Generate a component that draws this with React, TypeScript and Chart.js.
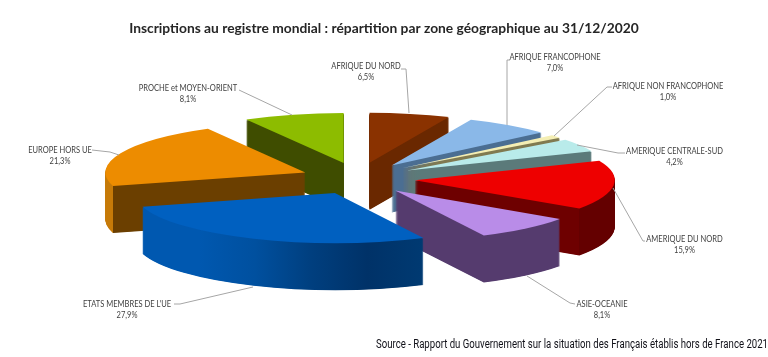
import React, { useEffect, useRef } from "react";
import { Chart, registerables } from "chart.js";

Chart.register(...registerables);

const categories = [
  "AFRIQUE DU NORD",
  "AFRIQUE FRANCOPHONE",
  "AFRIQUE NON FRANCOPHONE",
  "AMERIQUE CENTRALE-SUD",
  "AMERIQUE DU NORD",
  "ASIE-OCEANIE",
  "ETATS MEMBRES DE L'UE",
  "EUROPE HORS UE",
  "PROCHE et MOYEN-ORIENT",
];
const shares = [6.5, 7.0, 1.0, 4.2, 15.9, 8.1, 27.9, 21.3, 8.1];
const titleText = "Inscriptions au registre mondial : répartition par zone géographique au 31/12/2020";
const sourceText = "Source - Rapport du Gouvernement sur la situation des Français établis hors de France 2021";

const topColors = ["#8A3200", "#8AB8E8", "#F4EEB4", "#B9EBEA", "#EE0000", "#B98CE8", "#0060C0", "#ED8C00", "#8DBC00"];
const wallColors = ["#6A2800", "#4B6E92", "#807A50", "#5B7A7A", "#6E0000", "#553B6E", "#003E80", "#6B3F00", "#3F4D00"];
const rimColors = ["#6A2800", "#4B6E92", "#807A50", "#5B7A7A", "#640000", "#553B6E", "#003E80", "#C67A08", "#3F4D00"];
const blueRimStops = ["#0058B0", "#0058B0", "#00509F", "#003F7F", "#003268", "#003A72"];
const drawOrder = [8, 0, 1, 2, 3, 4, 5, 7, 6];
const euIndex = 6;

const PIE_X = 358;
const PIE_Y = 178.5;
const RADIUS = 200;
const EXPLODE = 57;
const SQUASH = 0.25;
const EXPLODE_SQUASH = 0.28;
const DEPTH = 47;
const LABEL_SQUEEZE = 0.885;

// text centre x, first-line y, leader polyline
const labelLayout: { x: number; y: number; line: number[][] }[] = [
  { x: 366, y: 66, line: [[401, 69], [406, 69], [409, 113]] },
  { x: 555, y: 57, line: [[510, 60], [507, 60], [507, 125]] },
  { x: 668, y: 86, line: [[612, 87], [607, 87], [554, 136]] },
  { x: 674.5, y: 151, line: [[625, 153], [618, 153], [577, 145]] },
  { x: 684.5, y: 239, line: [[613, 188], [643, 241], [645, 241]] },
  { x: 602, y: 304, line: [[527, 276], [570, 303], [575, 304]] },
  { x: 127, y: 304, line: [[253, 287], [180, 304], [174, 304]] },
  { x: 60, y: 150, line: [[92, 150], [110, 152], [119, 155]] },
  { x: 188, y: 88, line: [[239, 90], [292, 115]] },
];

const pie3d = {
  id: "pie3d",
  beforeDatasetsDraw(chart: any) {
    const ctx = chart.ctx;
    const meta = chart.getDatasetMeta(0);
    for (const i of drawOrder) {
      const el = meta.data[i];
      const base = el.options;
      const mid = (el.startAngle + el.endAngle) / 2;
      if (i === euIndex) {
        const left = RADIUS * Math.cos(el.endAngle);
        const right = RADIUS * Math.cos(el.startAngle);
        const g2 = ctx.createLinearGradient(el.x + left, 0, el.x + right, 0);
        blueRimStops.forEach((c, k) => g2.addColorStop(k / (blueRimStops.length - 1), c));
        drawSide(ctx, el, base, mid, g2);
      } else {
        const grad = ctx.createLinearGradient(el.x - RADIUS, 0, el.x + RADIUS, 0);
        const corner = Math.sin(el.startAngle) > Math.sin(el.endAngle) ? el.startAngle : el.endAngle;
        const cx = Math.cos(corner);
        const t = (cx + 1) / 2;
        const leftCol = cx < 0 ? rimColors[i] : wallColors[i];
        const rightCol = cx < 0 ? wallColors[i] : rimColors[i];
        grad.addColorStop(0, leftCol);
        grad.addColorStop(t, leftCol);
        grad.addColorStop(t, rightCol);
        grad.addColorStop(1, rightCol);
        drawSide(ctx, el, base, mid, grad);
      }
      drawFace(ctx, el, base, mid, topColors[i], 0);
      el.options = base;
    }
    return false;
  },
  afterDraw(chart: any) {
    const ctx = chart.ctx;
    ctx.save();
    ctx.strokeStyle = "#a6a6a6";
    ctx.lineWidth = 1;
    labelLayout.forEach((l) => {
      ctx.beginPath();
      l.line.forEach(([x, y], k) => (k ? ctx.lineTo(x, y) : ctx.moveTo(x, y)));
      ctx.stroke();
    });
    ctx.fillStyle = "#404040";
    ctx.font = "8.5px Lato";
    ctx.textAlign = "center";
    ctx.textBaseline = "middle";
    labelLayout.forEach((l, i) => {
      ctx.save();
      ctx.translate(l.x, l.y);
      ctx.scale(LABEL_SQUEEZE, 1);
      ctx.fillText(categories[i], 0, 0);
      ctx.fillText(shares[i].toFixed(1).replace(".", ",") + "%", 0, 11.5);
      ctx.restore();
    });
    // condensed source line
    ctx.fillStyle = "#101018";
    ctx.font = "12px Roboto";
    ctx.textAlign = "left";
    const w = ctx.measureText(sourceText).width;
    ctx.translate(376, 345);
    ctx.scale(392 / w, 1);
    ctx.fillText(sourceText, 0, 0);
    ctx.restore();
  },
};

function drawFace(ctx: any, el: any, base: any, mid: number, fill: any, lift: number) {
  ctx.save();
  ctx.translate(
    PIE_X + Math.cos(mid) * EXPLODE,
    PIE_Y + Math.sin(mid) * EXPLODE * EXPLODE_SQUASH + lift
  );
  ctx.scale(1, SQUASH);
  ctx.translate(-el.x, -el.y);
  el.options = { ...base, backgroundColor: fill, borderWidth: 0, offset: 0 };
  el.draw(ctx);
  ctx.restore();
}

function drawSide(ctx: any, el: any, base: any, mid: number, fill: any) {
  for (let d = DEPTH; d >= 1; d -= 0.5) drawFace(ctx, el, base, mid, fill, d);
}

export default function App() {
  const ref = useRef<HTMLCanvasElement | null>(null);
  useEffect(() => {
    const chart = new Chart(ref.current as HTMLCanvasElement, {
      type: "pie",
      data: {
        labels: categories,
        datasets: [{ data: shares, backgroundColor: topColors, borderWidth: 0, hoverOffset: 0 }],
      },
      options: {
        responsive: false,
        animation: false,
        radius: RADIUS,
        rotation: 0,
        events: [],
        plugins: {
          legend: { display: false },
          tooltip: { enabled: false },
          title: {
            display: true,
            text: titleText,
            color: "#262626",
            font: { family: "Lato", size: 13.8, weight: "bold", lineHeight: 1.2 },
            padding: { top: 20, bottom: 0 },
          },
        },
      } as any,
      plugins: [pie3d],
    });
    return () => chart.destroy();
  }, []);
  return (
    <div style={{ position: "absolute", left: 0, top: 0, width: 768, height: 357, background: "#fff" }}>
      <canvas ref={ref} width={768} height={357} style={{ display: "block" }} />
    </div>
  );
}
